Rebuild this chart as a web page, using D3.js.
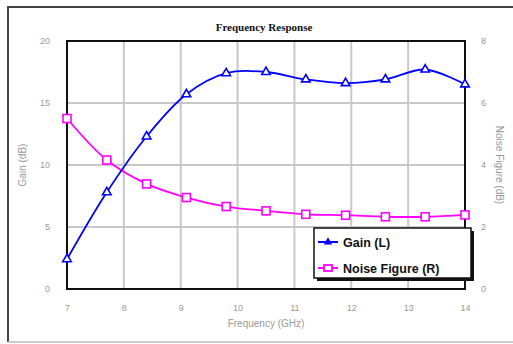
<!DOCTYPE html>
<html>
<head>
<meta charset="utf-8">
<script src="https://cdn.jsdelivr.net/npm/d3@7"></script>
<style>
  body { margin: 0; background: #fff; }
  svg { display: block; font-family: Arial, "Liberation Sans", sans-serif; }
</style>
</head>
<body>
<svg id="chart" width="513" height="344"></svg>
<script>
// frequencies (GHz)
const freq = [7.0, 7.7, 8.4, 9.1, 9.8, 10.5, 11.2, 11.9, 12.6, 13.3, 14.0];
// gain (dB), left axis
const gain = [2.4, 7.8, 12.3, 15.7, 17.4, 17.5, 16.9, 16.6, 16.9, 17.7, 16.5];
// noise figure (dB), right axis
const noiseFigure = [5.5, 4.16, 3.39, 2.95, 2.66, 2.52, 2.41, 2.38, 2.33, 2.33, 2.39];

const xTicks = [7, 8, 9, 10, 11, 12, 13, 14];
const leftTicks = [0, 5, 10, 15, 20];
const rightTicks = [0, 2, 4, 6, 8];

const svg = d3.select("#chart");
const margin = { top: 41, right: 48, bottom: 55, left: 67 };
const width = 513 - margin.left - margin.right;
const height = 344 - margin.top - margin.bottom;

// outer chart frame (right side runs off the picture)
svg.append("line").attr("x1", 8).attr("y1", 7).attr("x2", 513).attr("y2", 7)
    .attr("stroke", "#444").attr("stroke-width", 2);
svg.append("line").attr("x1", 8).attr("y1", 6).attr("x2", 8).attr("y2", 342)
    .attr("stroke", "#444").attr("stroke-width", 2);
svg.append("line").attr("x1", 8).attr("y1", 342).attr("x2", 513).attr("y2", 342)
    .attr("stroke", "#bbb").attr("stroke-width", 1.5);

const x = d3.scaleLinear().domain([7, 14]).range([0, width]);
const yL = d3.scaleLinear().domain([0, 20]).range([height, 0]);
const yR = d3.scaleLinear().domain([0, 8]).range([height, 0]);

const g = svg.append("g").attr("transform", `translate(${margin.left},${margin.top})`);

// grid
g.append("g").selectAll("line").data(xTicks.slice(1, -1)).join("line")
    .attr("x1", d => x(d)).attr("x2", d => x(d)).attr("y1", 0).attr("y2", height)
    .attr("stroke", "#c8c8c8").attr("stroke-width", 2);
g.append("g").selectAll("line").data(leftTicks.slice(1, -1)).join("line")
    .attr("x1", 0).attr("x2", width).attr("y1", d => yL(d)).attr("y2", d => yL(d))
    .attr("stroke", "#c8c8c8").attr("stroke-width", 2);

// axes
const styleAxis = sel => {
    sel.select(".domain").remove();
    sel.selectAll(".tick line").remove();
    sel.selectAll("text").attr("fill", "#999").style("font-size", "9px");
};
g.append("g").attr("transform", `translate(0,${height})`)
    .call(d3.axisBottom(x).tickValues(xTicks).tickFormat(d3.format("d")).tickPadding(10))
    .call(styleAxis);
g.append("g")
    .call(d3.axisLeft(yL).tickValues(leftTicks).tickPadding(11))
    .call(styleAxis);
g.append("g").attr("transform", `translate(${width},0)`)
    .call(d3.axisRight(yR).tickValues(rightTicks).tickPadding(10))
    .call(styleAxis);

// plot frame
g.append("rect").attr("width", width).attr("height", height)
    .attr("fill", "none").attr("stroke", "#111").attr("stroke-width", 2);

// axis titles
svg.append("text").attr("x", margin.left + width / 2).attr("y", 327)
    .attr("text-anchor", "middle").attr("fill", "#999").style("font-size", "10px")
    .text("Frequency (GHz)");
svg.append("text").attr("transform", `translate(26,${margin.top + height / 2}) rotate(-90)`)
    .attr("text-anchor", "middle").attr("fill", "#999").style("font-size", "10px")
    .text("Gain (dB)");
svg.append("text").attr("transform", `translate(496,${margin.top + height / 2}) rotate(90)`)
    .attr("text-anchor", "middle").attr("fill", "#999").style("font-size", "10px")
    .text("Noise Figure (dB)");

// title
svg.append("text").attr("x", 264).attr("y", 31).attr("text-anchor", "middle")
    .attr("fill", "#111").style("font-size", "11px").style("font-weight", "bold")
    .style("font-family", "'Liberation Serif', serif")
    .text("Frequency Response");

// series
const gainData = freq.map((f, i) => ({ f, v: gain[i] }));
const nfData = freq.map((f, i) => ({ f, v: noiseFigure[i] }));

const lineL = d3.line().x(d => x(d.f)).y(d => yL(d.v)).curve(d3.curveCatmullRom.alpha(0.5));
const lineR = d3.line().x(d => x(d.f)).y(d => yR(d.v)).curve(d3.curveCatmullRom.alpha(0.5));

g.append("path").datum(nfData).attr("d", lineR)
    .attr("fill", "none").attr("stroke", "#ff00ff").attr("stroke-width", 1.8);
g.append("path").datum(gainData).attr("d", lineL)
    .attr("fill", "none").attr("stroke", "#0000ff").attr("stroke-width", 1.8);

const tri = d3.symbol().type(d3.symbolTriangle).size(32);
g.append("g").selectAll("path").data(gainData).join("path")
    .attr("transform", d => `translate(${x(d.f)},${yL(d.v)})`)
    .attr("d", tri).attr("fill", "#fff").attr("stroke", "#0000ff").attr("stroke-width", 1.6);

g.append("g").selectAll("rect").data(nfData).join("rect")
    .attr("x", d => x(d.f) - 4).attr("y", d => yR(d.v) - 4)
    .attr("width", 8).attr("height", 8)
    .attr("fill", "#fff").attr("stroke", "#ff00ff").attr("stroke-width", 1.6);

// legend
const legend = svg.append("g").attr("transform", "translate(314,228)");
legend.append("rect").attr("x", 3).attr("y", 3).attr("width", 157).attr("height", 50).attr("fill", "#111");
legend.append("rect").attr("width", 157).attr("height", 50)
    .attr("fill", "#fff").attr("stroke", "#111").attr("stroke-width", 1.5);
const items = [
    { label: "Gain (L)", color: "#0000ff", mark: "tri" },
    { label: "Noise Figure (R)", color: "#ff00ff", mark: "sq" }
];
items.forEach((it, i) => {
    const yy = 14 + i * 26;
    legend.append("line").attr("x1", 4).attr("x2", 24).attr("y1", yy).attr("y2", yy)
        .attr("stroke", it.color).attr("stroke-width", 2);
    if (it.mark === "tri") {
        legend.append("path").attr("transform", `translate(14,${yy})`)
            .attr("d", d3.symbol().type(d3.symbolTriangle).size(30)).attr("fill", it.color);
    } else {
        legend.append("rect").attr("x", 10).attr("y", yy - 3).attr("width", 8).attr("height", 6)
            .attr("fill", "#fff").attr("stroke", it.color).attr("stroke-width", 1.8);
    }
    legend.append("text").attr("x", 29).attr("y", yy + 4.5)
        .attr("fill", "#111").style("font-size", "12.5px").style("font-weight", "bold")
        .text(it.label);
});
</script>
</body>
</html>
